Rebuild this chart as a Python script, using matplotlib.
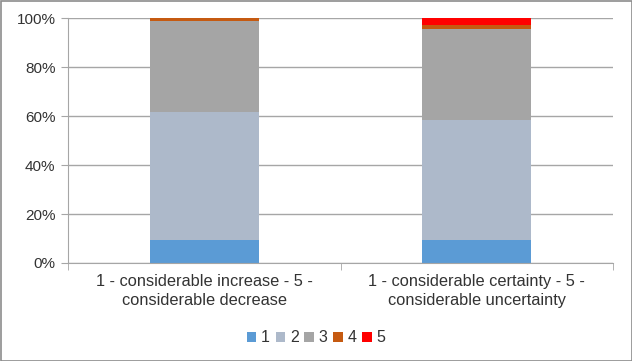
import matplotlib
matplotlib.use("Agg")
import matplotlib.pyplot as plt
from matplotlib.patches import Rectangle
from matplotlib.ticker import FixedLocator, FuncFormatter

plt.rcParams['font.family'] = ['Liberation Sans', 'DejaVu Sans']

categories = ["1 - considerable increase - 5 -\nconsiderable decrease",
              "1 - considerable certainty - 5 -\nconsiderable uncertainty"]
series_names = ["1", "2", "3", "4", "5"]
values = {
    "1": [9.4, 9.4],
    "2": [52.3, 49.0],
    "3": [37.1, 37.3],
    "4": [1.2, 1.5],
    "5": [0.0, 2.8],
}
colors = ["#5B9BD5", "#ADB9CA", "#A5A5A5", "#C55A11", "#FF0000"]
yticks = [0, 20, 40, 60, 80, 100]

fig = plt.figure(figsize=(6.32, 3.61), dpi=100)
ax = fig.add_axes([68/632, 1-263/361, (613-68)/632, (263-18)/361])

x = list(range(len(categories)))
bottom = [0.0] * len(categories)
for name, c in zip(series_names, colors):
    v = values[name]
    ax.bar(x, v, width=0.4, bottom=bottom, color=c, label=name, zorder=3)
    bottom = [b + vi for b, vi in zip(bottom, v)]

ax.set_xlim(-0.5, len(categories) - 0.5)
ax.set_ylim(0, 100)
ax.yaxis.set_major_locator(FixedLocator(yticks))
ax.yaxis.set_major_formatter(FuncFormatter(lambda v, p: f"{int(v)}%"))
ax.grid(axis='y', color='#A6A6A6', linewidth=1, zorder=0)

ax.set_xticks(x)
ax.set_xticklabels(categories, fontsize=11.8, color='#333333', linespacing=1.3)
ax.tick_params(axis='x', length=0, pad=8)
ax.set_xticks([-0.5, 0.5, 1.5], minor=True)
ax.tick_params(axis='x', which='minor', length=5, color='#A6A6A6', direction='out')
ax.tick_params(axis='y', length=5, color='#A6A6A6', labelsize=11, labelcolor='#333333', pad=4)

for s in ['top', 'right']:
    ax.spines[s].set_visible(False)
for s in ['left', 'bottom']:
    ax.spines[s].set_color('#A6A6A6')
ax.spines['bottom'].set_zorder(4)

leg = fig.legend(loc='center', bbox_to_anchor=(316/632, 1-338/361), ncol=5, frameon=False,
                 fontsize=11.5, handlelength=0.6, handleheight=0.6, handletextpad=0.3,
                 columnspacing=0.35)
for t in leg.get_texts():
    t.set_color('#333333')

fig.add_artist(Rectangle((0.5/632, 0.5/361), 1-1/632, 1-1/361, transform=fig.transFigure,
                         fill=False, edgecolor='#8C8C8C', linewidth=1.2))

fig.savefig("out.png", dpi=100)
